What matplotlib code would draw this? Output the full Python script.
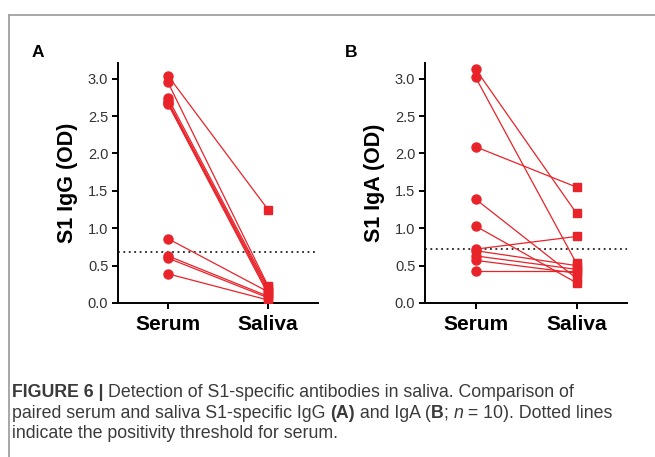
import matplotlib
matplotlib.use("Agg")
import matplotlib.pyplot as plt
from matplotlib.lines import Line2D

plt.rcParams['font.family'] = ['Liberation Sans', 'DejaVu Sans']

# data
groups = ['Serum', 'Saliva']
igg_serum = [3.04, 2.95, 2.74, 2.70, 2.68, 2.66, 0.86, 0.63, 0.60, 0.39]
igg_saliva = [1.25, 0.23, 0.21, 0.18, 0.15, 0.12, 0.15, 0.09, 0.07, 0.04]
iga_serum = [3.13, 3.02, 2.09, 1.39, 1.03, 0.72, 0.70, 0.63, 0.57, 0.43]
iga_saliva = [1.20, 0.53, 1.55, 0.33, 0.27, 0.89, 0.50, 0.45, 0.40, 0.43]
igg_cutoff = 0.68
iga_cutoff = 0.72
y_ticks = [0.0, 0.5, 1.0, 1.5, 2.0, 2.5, 3.0]

red = '#e8232a'
W, H = 655, 457

fig = plt.figure(figsize=(W / 100, H / 100), dpi=100)

# grey frame of the figure box
fig.add_artist(Line2D([9 / W, 1], [1 - 15 / H, 1 - 15 / H], color='#a0a0a0', lw=1.3))
fig.add_artist(Line2D([9 / W, 9 / W], [0, 1 - 15 / H], color='#a0a0a0', lw=1.3))


def panel(rect, serum, saliva, cutoff, ylabel, letter, letter_x):
    ax = fig.add_axes(rect)
    for s, v in zip(serum, saliva):
        ax.plot([0, 1], [s, v], color=red, lw=0.9, zorder=2)
    ax.plot([0] * len(serum), serum, 'o', color=red, ms=6.5, zorder=3)
    ax.plot([1] * len(saliva), saliva, 's', color=red, ms=6.2, zorder=3)
    ax.axhline(cutoff, color='#222222', lw=1.3, ls=(0, (1, 2)), zorder=1)
    ax.set_xlim(-0.5, 1.5)
    ax.set_ylim(0, 3.21)
    ax.set_xticks([0, 1])
    ax.set_xticklabels(groups, fontsize=15, fontweight='bold')
    ax.set_yticks(y_ticks)
    ax.set_yticklabels(['%.1f' % t for t in y_ticks], fontsize=10.5, color='#333333')
    ax.set_ylabel(ylabel, fontsize=15.5, fontweight='bold', labelpad=7)
    for side in ['top', 'right']:
        ax.spines[side].set_visible(False)
    for side in ['left', 'bottom']:
        ax.spines[side].set_linewidth(1.4)
    ax.tick_params(direction='out', width=1.4, length=4, pad=3)
    ax.tick_params(axis='x', pad=5)
    fig.text(letter_x / W, 1 - 57 / H, letter, fontsize=12.5,
             fontweight='bold', ha='left', va='baseline')
    return ax


panel([118 / W, 1 - 303 / H, 200 / W, 240 / H], igg_serum, igg_saliva,
      igg_cutoff, 'S1 IgG (OD)', 'A', 32)
panel([425 / W, 1 - 303 / H, 202 / W, 240 / H], iga_serum, iga_saliva,
      iga_cutoff, 'S1 IgA (OD)', 'B', 345)

# caption with mixed styles: pieces placed one after another
cap_font = ['Liberation Sans Narrow', 'Liberation Sans', 'DejaVu Sans']
cap_color = '#3a3a3a'
lines = [
    [('FIGURE 6 | ', 'bold', 'normal'),
     ('Detection of S1-specific antibodies in saliva. Comparison of', 'normal', 'normal')],
    [('paired serum and saliva S1-specific IgG ', 'normal', 'normal'),
     ('(A)', 'bold', 'normal'), (' and IgA (', 'normal', 'normal'),
     ('B', 'bold', 'normal'), ('; ', 'normal', 'normal'), ('n', 'normal', 'italic'),
     (' = 10). Dotted lines', 'normal', 'normal')],
    [('indicate the positivity threshold for serum.', 'normal', 'normal')],
]
baselines = [397, 418, 438]
renderer = fig.canvas.get_renderer()


def draw_line(pieces, x_px, y_px, size):
    arts = []
    x = x_px
    for txt, wt, st in pieces:
        t = fig.text(x / W, 1 - y_px / H, txt, fontsize=size, family=cap_font,
                     weight=wt, style=st, color=cap_color, va='baseline')
        x = t.get_window_extent(renderer).x1
        arts.append(t)
    return arts, x


# fit the font size so the second line ends where it does in the figure
size = 12.5
arts, end = draw_line(lines[1], 12, baselines[1], size)
for a in arts:
    a.remove()
size = size * (614 - 12) / (end - 12)

for pieces, yb in zip(lines, baselines):
    draw_line(pieces, 12, yb, size)

fig.savefig('out.png', dpi=100)
